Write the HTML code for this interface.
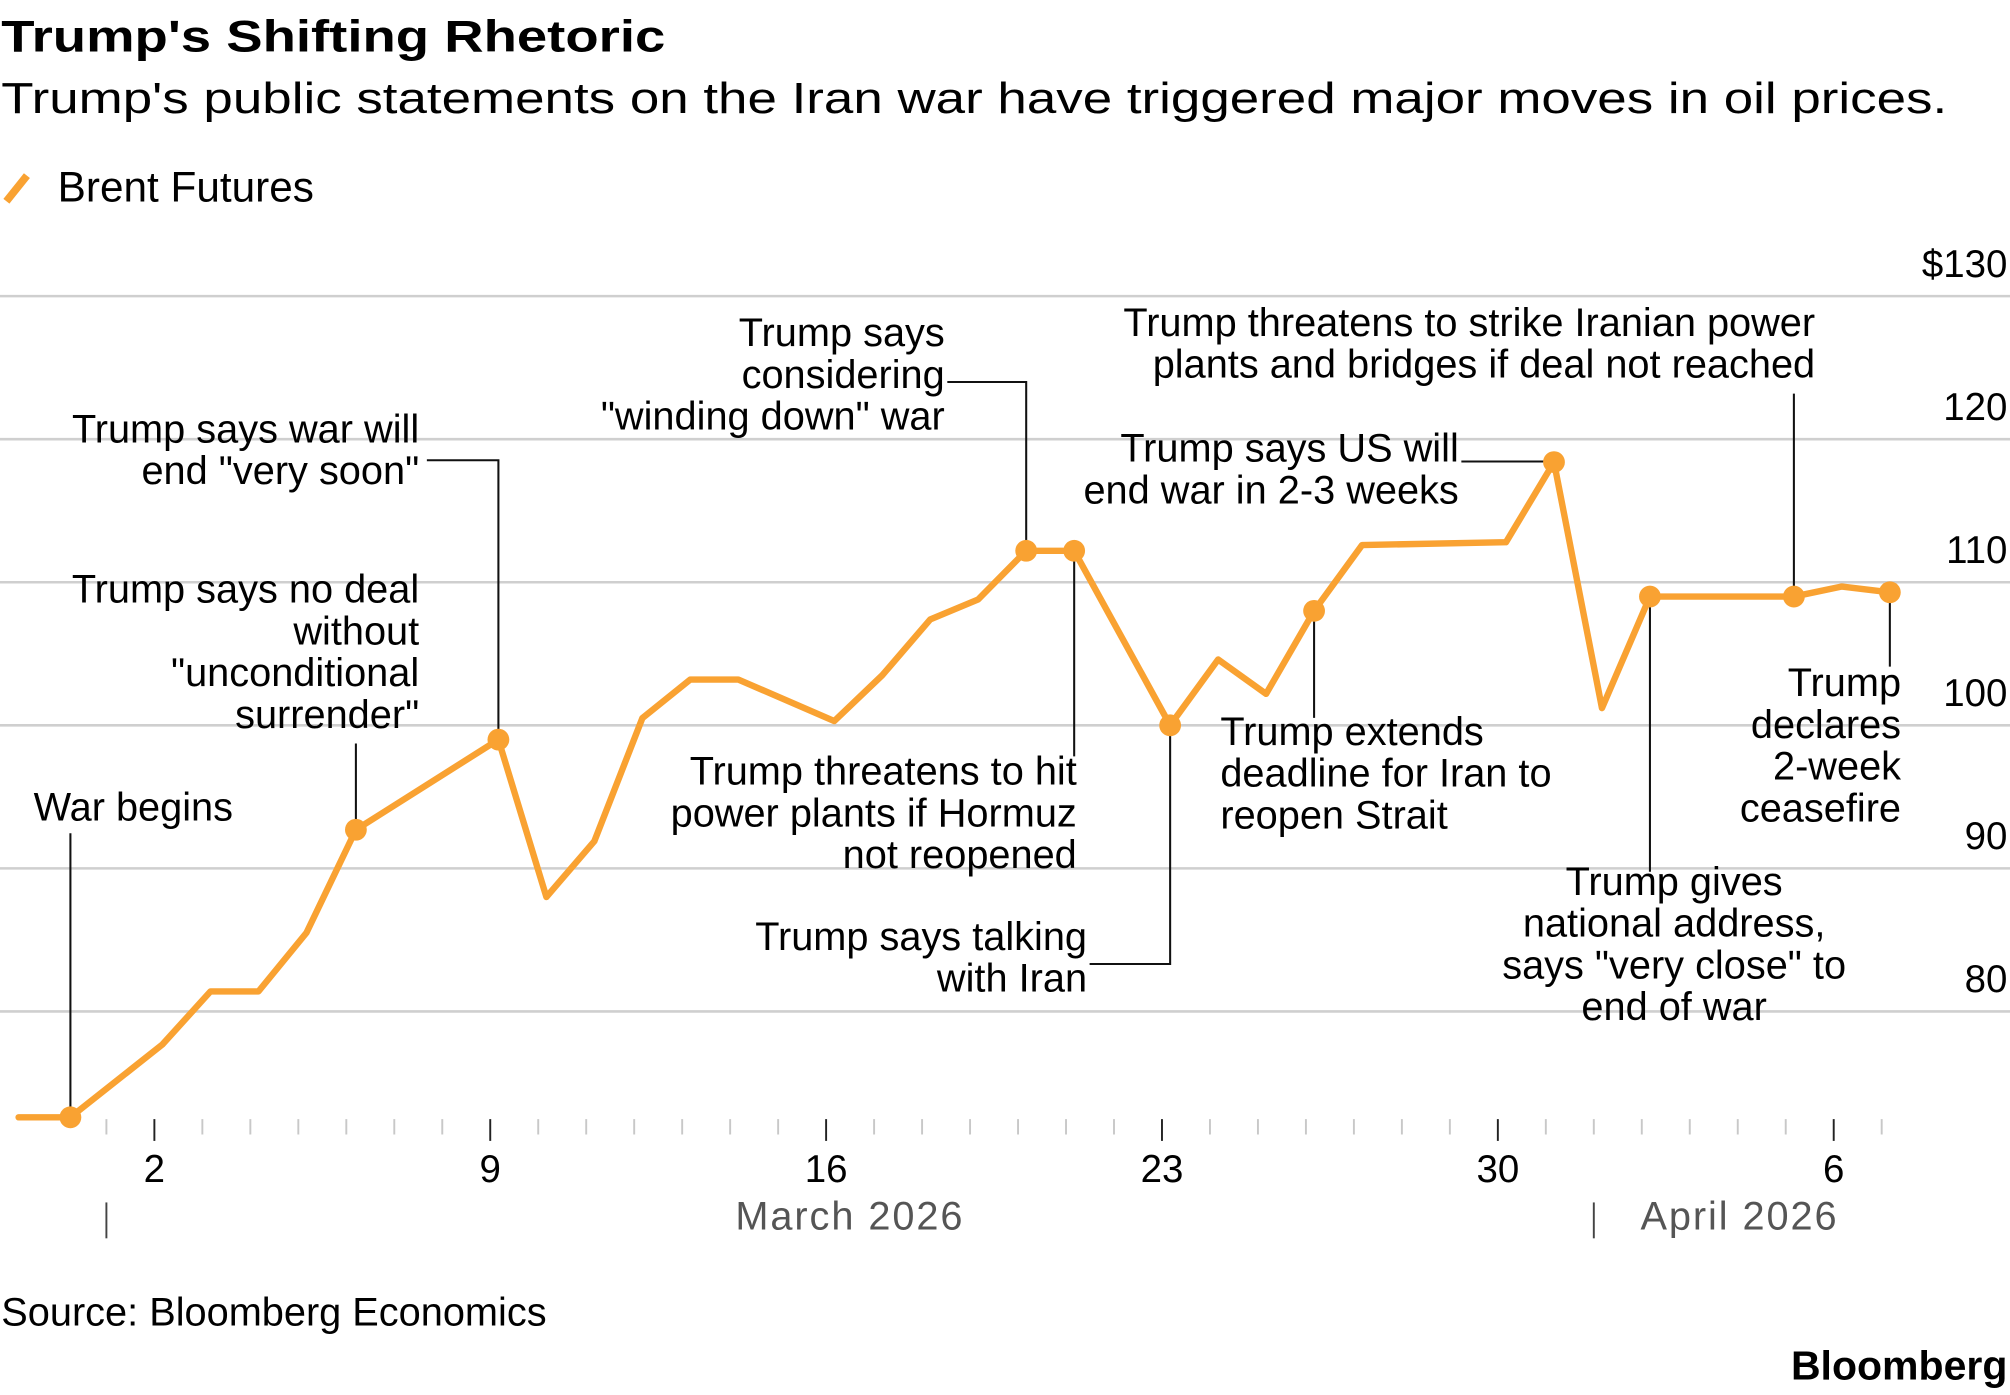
<!DOCTYPE html>
<html><head><meta charset="utf-8"><style>
html,body{margin:0;padding:0;background:#fff;}
svg{display:block;font-family:"Liberation Sans",sans-serif;}
</style></head><body>
<svg id="chart" width="2010" height="1395" viewBox="0 0 1568 1088.2" xmlns="http://www.w3.org/2000/svg">
<text x="1" y="40" font-size="35" font-weight="bold" textLength="518" lengthAdjust="spacingAndGlyphs">Trump's Shifting Rhetoric</text>
<text x="1" y="88" font-size="34" textLength="1518" lengthAdjust="spacingAndGlyphs">Trump's public statements on the Iran war have triggered major moves in oil prices.</text>
<g>
<line x1="5" y1="157" x2="21" y2="137" stroke="#f9a232" stroke-width="6"/>
<text x="45" y="157" font-size="33">Brent Futures</text>
</g>
<g id="grid"></g>
<g id="yax"></g>
<g id="xax"></g>
<g id="ann"></g>
<g id="series"></g>
<text x="1" y="1034" font-size="31">Source: Bloomberg Economics</text>
<text x="1566" y="1076" font-size="32" font-weight="bold" text-anchor="end">Bloomberg</text>
</svg>
<script>
// day of March 2026 (fractional), Brent price
const days = [-0.83,0.25,2.17,3.17,4.17,5.17,6.2,9.17,10.17,11.17,12.17,13.17,14.17,16.17,17.17,18.17,19.17,20.17,21.17,23.17,24.17,25.17,26.17,27.17,30.17,31.17,32.17,33.17,36.17,37.17,38.17];
const prices = [72.6,72.6,77.7,81.4,81.4,85.5,92.7,99.0,88.0,91.9,100.5,103.2,103.2,100.3,103.5,107.4,108.8,112.2,112.2,100.0,104.6,102.2,108.0,112.6,112.8,118.4,101.2,109.0,109.0,109.7,109.3];
const markerIdx = [1,6,7,17,18,19,22,25,27,28,30];
const yTicks = [80,90,100,110,120,130];
const yTickLabels = ["80","90","100","110","120","$130"];
const xMajorDays = [2,9,16,23,30,37];
const xMajorLabels = ["2","9","16","23","30","6"];
const monthLabels = ["March 2026","April 2026"];
const monthStarts = [1,32];

const NS="http://www.w3.org/2000/svg";
const xS = d => 83 + (d-1)*37.43;
const yS = v => 231 + (130-v)*11.16;
function mk(tag, attrs, parent, text){const e=document.createElementNS(NS,tag);for(const k in attrs)e.setAttribute(k,attrs[k]);if(text!==undefined)e.textContent=text;parent.appendChild(e);return e;}
const grid=document.getElementById('grid'), yax=document.getElementById('yax'), xax=document.getElementById('xax'), ann=document.getElementById('ann'), ser=document.getElementById('series');

yTicks.forEach((v,i)=>{
  const l=mk('line',{x1:0,x2:1568,y1:yS(v),y2:yS(v),stroke:'#cfcfcf','stroke-width':2},grid);
  
  
  const t=mk('text',{x:1566,y:yS(v)-15,'font-size':30,'text-anchor':'end'},yax,yTickLabels[i]);
  
  
});

for(let d=1; d<=38; d++){
  const major = xMajorDays.indexOf(d)>=0;
  const l=mk('line',{x1:xS(d),x2:xS(d),y1:873,y2:major?890:885,stroke:major?'#222':'#c8c8c8','stroke-width':1.5},xax);
  
  
}
xMajorDays.forEach((d,i)=>{
  const t=mk('text',{x:xS(d),y:922,'font-size':30,'text-anchor':'middle'},xax,xMajorLabels[i]);
  
  
});
monthStarts.forEach((d,i)=>{
  const l=mk('line',{x1:xS(d),x2:xS(d),y1:938,y2:966,stroke:'#444','stroke-width':1.5},xax);
  
  
});
const m1=mk('text',{x:663,y:959,'font-size':31,'text-anchor':'middle',fill:'#555','letter-spacing':1.5},xax,monthLabels[0]);


const m2=mk('text',{x:1357,y:959,'font-size':31,'text-anchor':'middle',fill:'#555','letter-spacing':1.5},xax,monthLabels[1]);



const P = i => [xS(days[i]), yS(prices[i])];
const notes = [
 {i:1, lines:["War begins"], anchor:"middle", x:104, y:640, path:(p)=>`M${p[0]},650V${p[1]}`},
 {i:6, lines:["Trump says no deal","without","\"unconditional","surrender\""], anchor:"end", x:327, y:470, path:(p)=>`M${p[0]},580V${p[1]}`},
 {i:7, lines:["Trump says war will","end \"very soon\""], anchor:"end", x:327, y:345, path:(p)=>`M333,359H${p[0]}V${p[1]}`},
 {i:17, lines:["Trump says","considering","\"winding down\" war"], anchor:"end", x:737, y:270, path:(p)=>`M739,298H${p[0]}V${p[1]}`},
 {i:18, lines:["Trump threatens to hit","power plants if Hormuz","not reopened"], anchor:"end", x:840, y:612, path:(p)=>`M${p[0]},590V${p[1]}`},
 {i:19, lines:["Trump says talking","with Iran"], anchor:"end", x:848, y:741, path:(p)=>`M850,752H${p[0]}V${p[1]}`},
 {i:22, lines:["Trump extends","deadline for Iran to","reopen Strait"], anchor:"start", x:952, y:581, path:(p)=>`M${p[0]},560V${p[1]}`},
 {i:25, lines:["Trump says US will","end war in 2-3 weeks"], anchor:"end", x:1138, y:360, path:(p)=>`M1140,360H${p[0]}V${p[1]}`},
 {i:28, lines:["Trump threatens to strike Iranian power","plants and bridges if deal not reached"], anchor:"end", x:1416, y:262, path:(p)=>`M${p[0]},307V${p[1]}`},
 {i:27, lines:["Trump gives","national address,","says \"very close\" to","end of war"], anchor:"middle", x:1306, y:698, path:(p)=>`M${p[0]},680V${p[1]}`},
 {i:30, lines:["Trump","declares","2-week","ceasefire"], anchor:"end", x:1483, y:543, path:(p)=>`M${p[0]},520V${p[1]}`}
];
notes.forEach(n=>{
  const pth=mk('path',{d:n.path(P(n.i)),fill:'none',stroke:'#111','stroke-width':1.6},ann);
  
  
  const t=mk('text',{x:n.x,y:n.y,'font-size':31,'text-anchor':n.anchor},ann);
  
  
  n.lines.forEach((s,k)=>{mk('tspan',{x:n.x,y:n.y+k*32.6},t,s);});
});

const line=mk('polyline',{points:days.map((d,i)=>[xS(d),yS(prices[i])].join(',')).join(' '),fill:'none',stroke:'#f9a232','stroke-width':5,'stroke-linejoin':'round','stroke-linecap':'round'},ser);


markerIdx.forEach(i=>{
  const c=mk('circle',{cx:xS(days[i]),cy:yS(prices[i]),r:8.5,fill:'#f9a232'},ser);
  
  
});
</script>
</body></html>
